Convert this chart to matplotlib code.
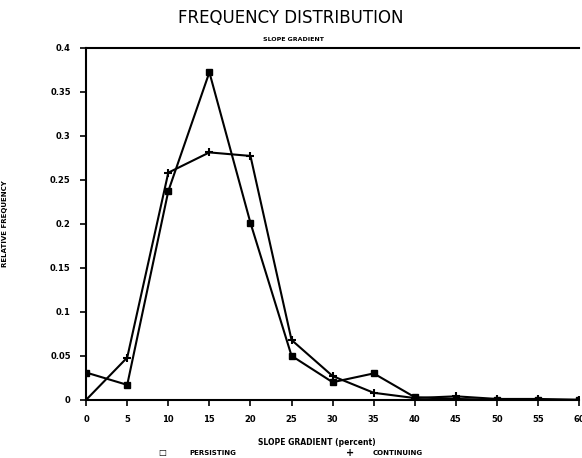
import numpy as np
import matplotlib
matplotlib.use("Agg")
import matplotlib.pyplot as plt

# slope gradient classes (percent)
slope = [0, 5, 10, 15, 20, 25, 30, 35, 40, 45, 50, 55, 60]

# relative frequency
persisting = [0.031, 0.017, 0.237, 0.372, 0.201, 0.050, 0.020, 0.030, 0.003, 0.001, 0.000, 0.000, 0.000]
continuing = [0.000, 0.048, 0.258, 0.281, 0.277, 0.068, 0.027, 0.008, 0.002, 0.004, 0.001, 0.001, 0.000]

xticks = list(range(0, 61, 5))
yticks = [0, 0.05, 0.1, 0.15, 0.2, 0.25, 0.3, 0.35, 0.4]
ylabels = ["0", "0.05", "0.1", "0.15", "0.2", "0.25", "0.3", "0.35", "0.4"]

fig = plt.figure(figsize=(5.82, 4.58), dpi=100)
ax = fig.add_axes([0.148, 0.127, 0.847, 0.769])

ax.plot(slope, persisting, color="black", lw=1.5, marker="s", ms=5,
        markerfacecolor="black", markeredgecolor="black")
ax.plot(slope, continuing, color="black", lw=1.5, marker="+", ms=6, mew=1.5)

ax.set_xlim(0, 60)
ax.set_ylim(0, 0.4)
ax.set_xticks(xticks)
ax.set_xticklabels([str(t) for t in xticks], fontsize=6, fontweight="bold")
ax.set_yticks(yticks)
ax.set_yticklabels(ylabels, fontsize=6, fontweight="bold")
ax.tick_params(direction="out", length=4, width=1.2, pad=7)

ax.spines["right"].set_visible(False)
for s in ["left", "bottom", "top"]:
    ax.spines[s].set_linewidth(1.5)

ax.set_ylabel("RELATIVE FREQUENCY", fontsize=5, fontweight="bold", labelpad=30)

fig.text(0.5, 0.96, "FREQUENCY DISTRIBUTION", ha="center", va="center", fontsize=12)
fig.text(0.505, 0.913, "SLOPE GRADIENT", ha="center", va="center", fontsize=4.5,
         fontweight="bold")
fig.text(0.545, 0.034, "SLOPE GRADIENT (percent)", ha="center", va="center",
         fontsize=5.5, fontweight="bold")

# legend row under the axis label
fig.text(0.278, 0.011, "\u25a1", ha="center", va="center", fontsize=6, fontweight="bold")
fig.text(0.326, 0.011, "PERSISTING", ha="left", va="center", fontsize=5, fontweight="bold")
fig.text(0.601, 0.011, "+", ha="center", va="center", fontsize=7, fontweight="bold")
fig.text(0.641, 0.011, "CONTINUING", ha="left", va="center", fontsize=5, fontweight="bold")

fig.savefig("out.png", dpi=100)
